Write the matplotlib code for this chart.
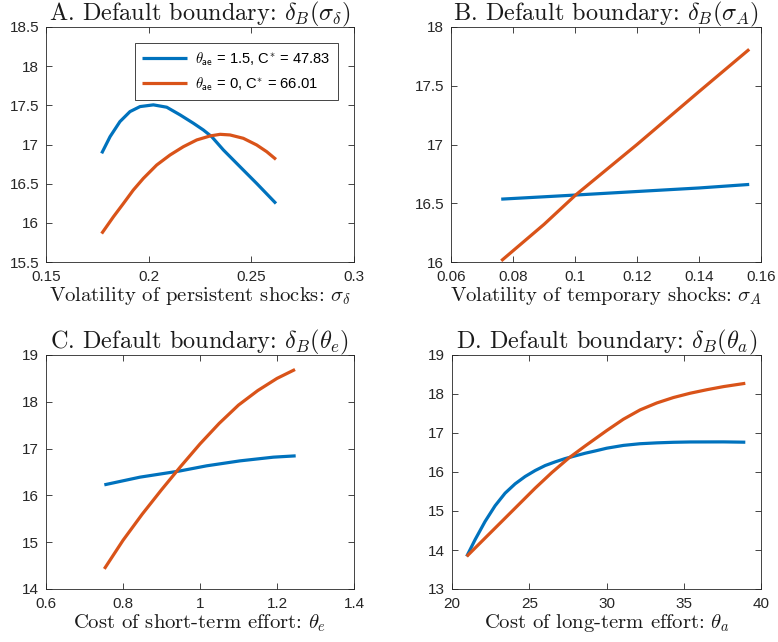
import matplotlib
matplotlib.use("Agg")
import matplotlib.pyplot as plt

plt.rcParams['mathtext.fontset'] = 'cm'
plt.rcParams['font.family'] = ['Liberation Sans', 'DejaVu Sans']
plt.rcParams['axes.unicode_minus'] = False

BLUE = '#0072BD'
ORANGE = '#D95319'

# Panel A: volatility of persistent shocks
a_x_blue = [0.1771, 0.1812, 0.1860, 0.1909, 0.1958, 0.2023, 0.2088, 0.2153, 0.2218,
            0.2266, 0.2307, 0.2364, 0.2445, 0.2526, 0.2620]
a_y_blue = [16.887, 17.100, 17.292, 17.420, 17.484, 17.506, 17.476, 17.378, 17.271,
            17.186, 17.100, 16.930, 16.716, 16.503, 16.247]
a_x_orange = [0.1771, 0.1828, 0.1877, 0.1925, 0.1974, 0.2039, 0.2104, 0.2169, 0.2234,
              0.2299, 0.2348, 0.2396, 0.2461, 0.2526, 0.2575, 0.2620]
a_y_orange = [15.863, 16.076, 16.247, 16.418, 16.567, 16.738, 16.866, 16.972, 17.058,
              17.109, 17.130, 17.122, 17.079, 16.994, 16.908, 16.810]

# Panel B: volatility of temporary shocks
b_x = [0.0762, 0.09, 0.1002, 0.12, 0.14, 0.1562]
b_y_blue = [16.535, 16.555, 16.57, 16.60, 16.63, 16.66]
b_y_orange = [16.01, 16.32, 16.57, 17.00, 17.45, 17.81]

# Panel C: cost of short-term effort
c_x_blue = [0.7515, 0.8442, 0.9463, 1.0173, 1.1039, 1.1905, 1.2485]
c_y_blue = [16.226, 16.390, 16.520, 16.632, 16.738, 16.817, 16.845]
c_x_orange = [0.7515, 0.80, 0.85, 0.90, 0.95, 1.00, 1.05, 1.10, 1.15, 1.20, 1.2468]
c_y_orange = [14.43, 15.04, 15.60, 16.12, 16.62, 17.10, 17.54, 17.93, 18.24, 18.50, 18.69]

# Panel D: cost of long-term effort
d_x_blue = [20.951, 21.492, 22.141, 22.789, 23.438, 24.087, 24.735, 25.384, 26.032, 26.681,
            27.330, 27.978, 28.627, 29.276, 30.012, 31.093, 32.173, 33.254, 34.335, 35.416,
            37.578, 38.984]
d_y_blue = [13.836, 14.263, 14.732, 15.134, 15.458, 15.697, 15.885, 16.038, 16.166, 16.260,
            16.345, 16.414, 16.482, 16.540, 16.610, 16.682, 16.725, 16.747, 16.762, 16.770,
            16.772, 16.764]
d_x_orange = [20.951, 22.141, 23.222, 24.303, 25.384, 26.465, 27.546, 28.627, 30.012, 31.093,
              32.173, 33.254, 34.335, 35.416, 36.497, 37.578, 38.984]
d_y_orange = [13.836, 14.306, 14.732, 15.159, 15.586, 15.987, 16.354, 16.670, 17.062, 17.353,
              17.592, 17.770, 17.910, 18.020, 18.110, 18.190, 18.274]

legend_labels = [r'$\theta_{\mathsf{ae}}$ = 1.5, C$^{*}$ = 47.83',
                 r'$\theta_{\mathsf{ae}}$ = 0, C$^{*}$ = 66.01']

titles = [r'A. Default boundary: $\delta_B(\sigma_\delta)$',
          r'B. Default boundary: $\delta_B(\sigma_A)$',
          r'C. Default boundary: $\delta_B(\theta_e)$',
          r'D. Default boundary: $\delta_B(\theta_a)$']
xlabels = [r'Volatility of persistent shocks: $\sigma_\delta$',
           r'Volatility of temporary shocks: $\sigma_A$',
           r'Cost of short-term effort: $\theta_e$',
           r'Cost of long-term effort: $\theta_a$']

xticks = [[0.15, 0.2, 0.25, 0.3], [0.06, 0.08, 0.1, 0.12, 0.14, 0.16],
          [0.6, 0.8, 1.0, 1.2, 1.4], [20, 25, 30, 35, 40]]
xticklabels = [['0.15', '0.2', '0.25', '0.3'], ['0.06', '0.08', '0.1', '0.12', '0.14', '0.16'],
               ['0.6', '0.8', '1', '1.2', '1.4'], ['20', '25', '30', '35', '40']]
yticks = [[15.5, 16, 16.5, 17, 17.5, 18, 18.5], [16, 16.5, 17, 17.5, 18],
          [14, 15, 16, 17, 18, 19], [13, 14, 15, 16, 17, 18, 19]]
yticklabels = [['15.5', '16', '16.5', '17', '17.5', '18', '18.5'],
               ['16', '16.5', '17', '17.5', '18'],
               ['14', '15', '16', '17', '18', '19'],
               ['13', '14', '15', '16', '17', '18', '19']]

fig = plt.figure(figsize=(7.78, 6.42), dpi=100)
W, H = 778, 642
boxes = [(46, 27, 354, 262), (451, 27, 761, 262), (46, 355, 354, 589), (452, 355, 761, 589)]
axes = []
for (l, t, r, b) in boxes:
    axes.append(fig.add_axes([l / W, (H - b) / H, (r - l) / W, (b - t) / H]))

data = [(a_x_blue, a_y_blue, a_x_orange, a_y_orange),
        (b_x, b_y_blue, b_x, b_y_orange),
        (c_x_blue, c_y_blue, c_x_orange, c_y_orange),
        (d_x_blue, d_y_blue, d_x_orange, d_y_orange)]

for i, ax in enumerate(axes):
    xb, yb, xo, yo = data[i]
    ax.plot(xb, yb, color=BLUE, lw=2.3, label=legend_labels[0],
            solid_capstyle='butt', solid_joinstyle='round')
    ax.plot(xo, yo, color=ORANGE, lw=2.3, label=legend_labels[1],
            solid_capstyle='butt', solid_joinstyle='round')
    ax.set_xlim(xticks[i][0], xticks[i][-1])
    ax.set_ylim(yticks[i][0], yticks[i][-1])
    ax.set_xticks(xticks[i])
    ax.set_xticklabels(xticklabels[i])
    ax.set_yticks(yticks[i])
    ax.set_yticklabels(yticklabels[i])
    ax.tick_params(direction='in', top=True, right=True, length=4, width=0.6,
                   labelsize=11, colors='#262626')
    ax.tick_params(axis='x', pad=5.5)
    ax.tick_params(axis='y', pad=5)
    for s in ax.spines.values():
        s.set_linewidth(0.6)
        s.set_color('#262626')
    ax.set_title(titles[i], family='cmr10', fontsize=17.5, pad=5, color='#1a1a1a')
    ax.set_xlabel(xlabels[i], family='cmr10', fontsize=14.9, labelpad=1, color='#1a1a1a')

leg = axes[0].legend(loc='upper right', bbox_to_anchor=(0.948, 0.932), borderaxespad=0,
                     fontsize=10.6, handlelength=3.0, handletextpad=0.6, labelspacing=0.5,
                     fancybox=False, framealpha=1, edgecolor='#262626', borderpad=0.5)
leg.get_frame().set_linewidth(0.6)

fig.savefig('out.png', dpi=100)
